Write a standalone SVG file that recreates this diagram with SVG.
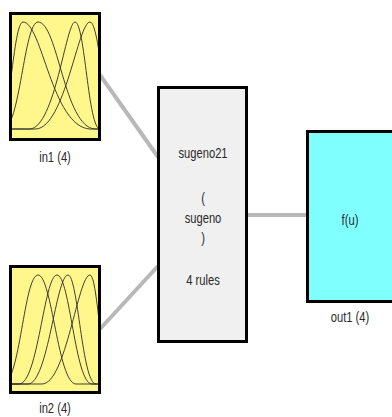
<svg xmlns="http://www.w3.org/2000/svg" width="392" height="417" viewBox="0 0 392 417">
<style>
.box{stroke:#000;stroke-width:3}
.in{fill:#fff78c}
.mf{fill:none;stroke:#2a2a2a;stroke-width:0.9}
.conn{stroke:#b8b8b8;stroke-width:4;fill:none}
.lbl{font-family:"Liberation Sans",Arial,sans-serif;font-size:14px;fill:#2a2a2a;text-anchor:middle}
</style>
<defs>
<clipPath id="c1"><rect x="12" y="15" width="86" height="123"/></clipPath>
<clipPath id="c2"><rect x="12" y="268" width="86" height="123"/></clipPath>
</defs>
<rect width="392" height="417" fill="#fff"/>
<g id="connectors">
<line class="conn" x1="100" y1="75" x2="158" y2="157"/>
<line class="conn" x1="100" y1="329" x2="158" y2="266"/>
<line class="conn" x1="247" y1="215" x2="307" y2="215"/>
</g>
<g id="in1">
<rect class="box in" x="10.5" y="13.5" width="89" height="126"/>
<g clip-path="url(#c1)">
<path class="mf" d="M-2,129 C10,129 13,22 23,22 C42,22 52,127 90,129 L98,129"/>
<path class="mf" d="M3,129 C20,129 24,22 38,22 C58,22 64,127 95,129 L98,129"/>
<path class="mf" d="M12,129 L30,129 C55,127 66,22 75,22 C85,22 88,129 100,129"/>
<path class="mf" d="M12,129 L36,129 C65,127 78,22 90,22 C100,22 105,129 115,129"/>
</g>
<text class="lbl" transform="translate(55,162) scale(0.8,1)">in1 (4)</text>
</g>
<g id="in2">
<rect class="box in" x="10.5" y="266.5" width="89" height="126"/>
<g clip-path="url(#c2)">
<path class="mf" d="M3,384 C20,384 24,275 38,275 C52,275 58,384 76,384 L98,384"/>
<path class="mf" d="M12,384 L19,384 C38,384 44,275 57,275 C70,275 75,384 92,384 L98,384"/>
<path class="mf" d="M12,384 L28,384 C48,384 56,275 68,275 C78,275 82,384 96,384"/>
<path class="mf" d="M12,384 L42,384 C66,384 78,275 90,275 C98,275 102,384 110,384"/>
</g>
<text class="lbl" transform="translate(55,413) scale(0.8,1)">in2 (4)</text>
</g>
<g id="sugeno21">
<rect class="box" x="158.5" y="87.5" width="88" height="254" fill="#f0f0f0"/>
<text class="lbl" transform="translate(203,158) scale(0.8,1)">sugeno21</text>
<text class="lbl" transform="translate(203,203) scale(0.8,1)">(</text>
<text class="lbl" transform="translate(203,223) scale(0.8,1)">sugeno</text>
<text class="lbl" transform="translate(203,243) scale(0.8,1)">)</text>
<text class="lbl" transform="translate(203,285) scale(0.8,1)">4 rules</text>
</g>
<g id="out1">
<rect class="box" x="307.5" y="131.5" width="100" height="170" fill="#80ffff"/>
<text class="lbl" transform="translate(350,225) scale(0.8,1)">f(u)</text>
<text class="lbl" transform="translate(350,322) scale(0.8,1)">out1 (4)</text>
</g>
</svg>
